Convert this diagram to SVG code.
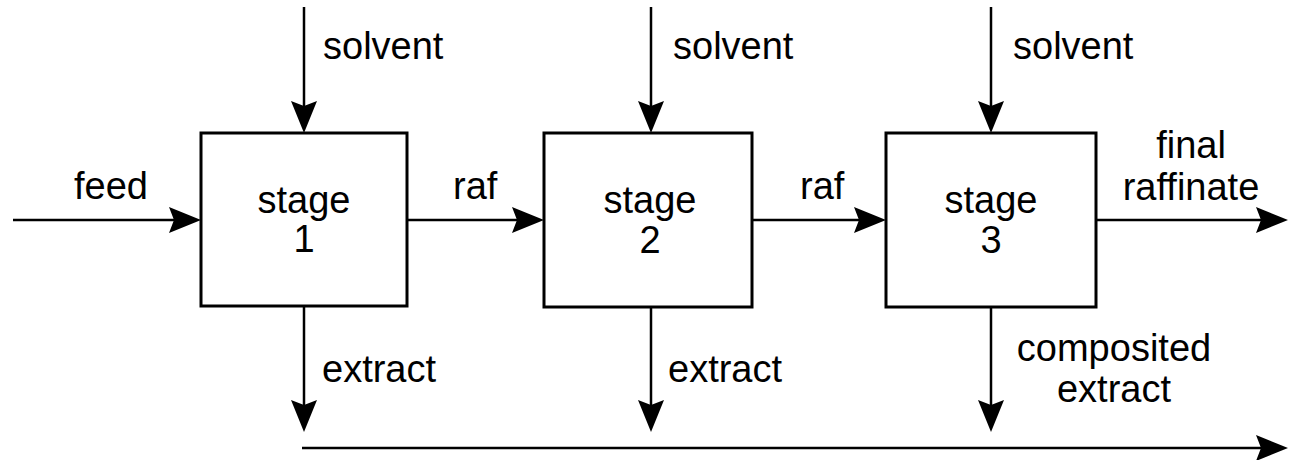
<svg xmlns="http://www.w3.org/2000/svg" width="1290" height="460" viewBox="0 0 1290 460">
<style>
.box{fill:#fff;stroke:#000;stroke-width:3}
.ln{fill:none;stroke:#000;stroke-width:2.5;marker-end:url(#ah)}
text{font-family:"Liberation Sans",Arial,sans-serif;font-size:38px;fill:#000}
.c{text-anchor:middle}
</style>
<defs>
<marker id="ah" markerUnits="userSpaceOnUse" viewBox="0 0 32 26" refX="26" refY="13" markerWidth="32" markerHeight="26" orient="auto">
<path d="M0,0 L32,13 L0,26 L5,13 Z" fill="#000"/>
</marker>
</defs>
<rect width="1290" height="460" fill="#fff"/>
<g id="connectors">
<line class="ln" x1="304" y1="7" x2="304" y2="127"/>
<line class="ln" x1="651" y1="7" x2="651" y2="127"/>
<line class="ln" x1="991" y1="7" x2="991" y2="127"/>
<line class="ln" x1="13" y1="220" x2="195" y2="220"/>
<line class="ln" x1="407" y1="220" x2="538" y2="220"/>
<line class="ln" x1="752" y1="220" x2="880" y2="220"/>
<line class="ln" x1="1096" y1="220" x2="1282" y2="220"/>
<line class="ln" x1="304" y1="306" x2="304" y2="426"/>
<line class="ln" x1="651" y1="307" x2="651" y2="426"/>
<line class="ln" x1="991" y1="307" x2="991" y2="426"/>
<line class="ln" x1="302" y1="448" x2="1282" y2="448"/>
<text x="323" y="59">solvent</text>
<text x="673" y="59">solvent</text>
<text x="1013" y="59">solvent</text>
<text x="74" y="199">feed</text>
<text x="453" y="199">raf</text>
<text x="800" y="199">raf</text>
<text class="c" x="1191" y="158">final</text>
<text class="c" x="1191" y="200">raffinate</text>
<text x="322" y="382">extract</text>
<text x="668" y="382">extract</text>
<text class="c" x="1114" y="361">composited</text>
<text class="c" x="1114" y="402">extract</text>
</g>
<g id="stage1">
<rect class="box" x="201" y="133" width="206" height="173"/>
<text class="c" x="304" y="213">stage</text>
<text class="c" x="304" y="252">1</text>
</g>
<g id="stage2">
<rect class="box" x="544" y="133" width="208" height="174"/>
<text class="c" x="650" y="213">stage</text>
<text class="c" x="650" y="253">2</text>
</g>
<g id="stage3">
<rect class="box" x="886" y="133" width="210" height="174"/>
<text class="c" x="991" y="213">stage</text>
<text class="c" x="991" y="253">3</text>
</g>
</svg>
